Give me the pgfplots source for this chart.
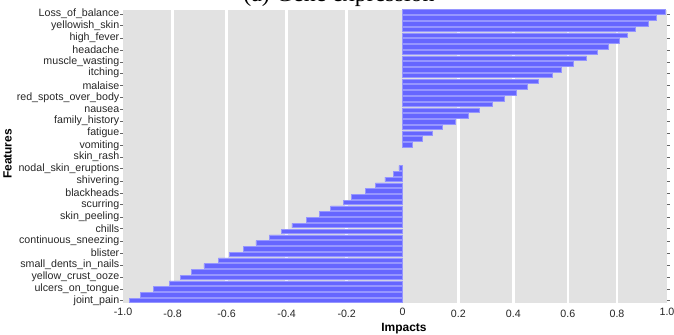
\documentclass[border=0pt]{standalone}
\usepackage{pgfplots}
\pgfplotsset{compat=1.18}
\usepackage{fontspec}
\setmainfont{Liberation Sans}
\newfontfamily\titlefont{Liberation Serif}
\definecolor{panel}{RGB}{226,226,226}
\definecolor{barblue}{RGB}{102,102,255}
\definecolor{baredge}{RGB}{150,150,255}
\begin{document}
\begin{tikzpicture}[x=1bp,y=1bp]
\begin{axis}[
  at={(123bp,31.7bp)}, anchor=south west,
  width=544bp, height=293.3bp, scale only axis,
  xmin=-1.0567, xmax=1.0, ymin=-0.35, ymax=50.48, y dir=reverse,
  axis background/.style={fill=panel},
  axis line style={draw=none},
  xbar, bar width=0.78, bar shift=0pt,
  xtick={-0.869,-0.665,-0.438,-0.211,0.211,0.419,0.625,0.811},
  xticklabels={-0.8,-0.6,-0.4,-0.2,0.2,0.4,0.6,0.8},
  extra x ticks={-1.0567,0,1.0},
  extra x tick labels={-1.0,0,1.0},
  extra x tick style={grid=none, major tick length=0pt},
  xmajorgrids=true, ymajorgrids=false,
  major grid style={white, line width=2.5bp},
  xtick style={draw=none},
  tick align=outside, major tick length=2.5bp,
  ytick style={draw=black!60, line width=0.5bp},
  xticklabel style={font=\fontsize{10.7}{12}\selectfont, text=black!85, yshift=-1bp},
  yticklabel style={font=\fontsize{10.7}{12}\selectfont, text=black!85, inner sep=1bp},
  ytick={0.35,2.38,4.46,6.55,8.63,10.59,12.73,14.81,16.84,18.87,20.95,23.09,25.12,27.14,29.29,31.37,33.39,35.54,37.55,39.70,41.72,43.80,45.95,47.97,50.0},
  yticklabels={Loss\_of\_balance,yellowish\_skin,high\_fever,headache,muscle\_wasting,itching,malaise,red\_spots\_over\_body,nausea,family\_history,fatigue,vomiting,skin\_rash,nodal\_skin\_eruptions,shivering,blackheads,scurring,skin\_peeling,chills,continuous\_sneezing,blister,small\_dents\_in\_nails,yellow\_crust\_ooze,ulcers\_on\_tongue,joint\_pain},
]
\addplot[fill=barblue, draw=baredge, line width=0.6bp] coordinates {
(0.9936,0) (0.9595,1) (0.9293,2) (0.8790,3) (0.8488,4) (0.8185,5)
(0.7781,6) (0.7365,7) (0.6964,8) (0.6457,9) (0.6019,10) (0.5660,11)
(0.5149,12) (0.4718,13) (0.4291,14) (0.3864,15) (0.3395,16) (0.2904,17)
(0.2484,18) (0.2011,19) (0.1520,20) (0.1142,21) (0.0764,22) (0.0386,23)
(-0.0136,27) (-0.0340,28) (-0.0662,29) (-0.1028,30) (-0.1406,31) (-0.1921,32)
(-0.2238,33) (-0.2715,34) (-0.3146,35) (-0.3622,36) (-0.4178,37) (-0.4582,38)
(-0.5036,39) (-0.5539,40) (-0.6019,41) (-0.6533,42) (-0.6964,43) (-0.7505,44)
(-0.7985,45) (-0.8401,46) (-0.8817,47) (-0.9422,48) (-0.9924,49) (-1.0340,50)
};
\end{axis}
\node[rotate=90, font=\bfseries\fontsize{12}{14}\selectfont] at (7.5bp,181bp) {Features};
\node[font=\bfseries\fontsize{12}{14}\selectfont] at (404bp,6bp) {Impacts};
\node[font=\titlefont\fontsize{24}{28}\selectfont, anchor=base, inner sep=0pt] at (339bp,333bp) {(a) Gene expression};
\pgfresetboundingbox
\path[use as bounding box] (0,0) rectangle (674bp,335bp);
\end{tikzpicture}
\end{document}
